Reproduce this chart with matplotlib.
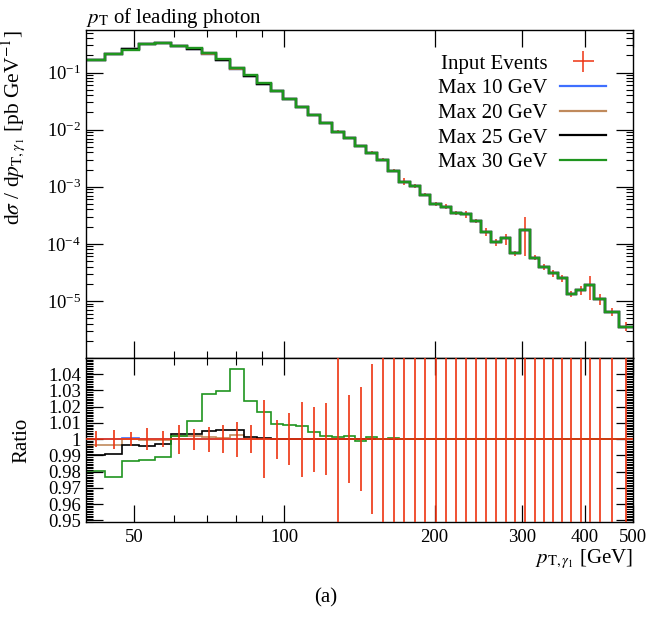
import matplotlib
matplotlib.use("Agg")
import matplotlib.pyplot as plt
import matplotlib.ticker as mticker
import numpy as np

plt.rcParams['font.family'] = ['Liberation Serif', 'DejaVu Serif']
plt.rcParams['mathtext.fontset'] = 'stix'

# bin edges of the leading photon pT histogram [GeV]
edges = [40, 43.7, 47.3, 51.1, 55.1, 59.3, 63.7, 68.3, 73.0, 77.7, 82.8, 88.3,
         93.8, 99.4, 105.3, 111.4, 117.9, 124.5, 131.4, 138.5, 145.8, 153.5,
         161.5, 169.8, 178.2, 187.0, 196.1, 205.7, 215.5, 225.9, 236.7, 247.8,
         259.8, 271.5, 283.6, 296.6, 310.4, 324.2, 338.5, 353.3, 368, 384.5,
         401, 418, 439, 468, 500]

# input events: dsigma/dpT [pb/GeV]
ref_vals = [0.169, 0.2126, 0.257, 0.322, 0.331, 0.297, 0.263, 0.215, 0.165,
            0.1175, 0.0886, 0.0642, 0.0472, 0.0346, 0.0248, 0.01815, 0.0133,
            0.00927, 0.00718, 0.00527, 0.00397, 0.00296, 0.00192, 0.00123,
            0.00105, 0.00073, 0.000508, 0.000450, 0.000353, 0.000335,
            0.000256, 0.000164, 0.000108, 0.000124, 6.87e-5, 0.000178,
            5.75e-5, 4.0e-5, 3.07e-5, 2.47e-5, 1.33e-5, 1.56e-5, 1.91e-5,
            1.10e-5, 6.52e-6, 3.56e-6]

# relative uncertainty of the input events
ref_relerr = [0.005, 0.0059, 0.0043, 0.0068, 0.0048, 0.0089, 0.0064, 0.0076,
              0.0085, 0.0108, 0.0088, 0.0242, 0.0119, 0.0161, 0.023, 0.020,
              0.0222, 0.07, 0.027, 0.032, 0.046, 0.06, 0.07, 0.14, 0.08, 0.07,
              0.08, 0.10, 0.08, 0.14, 0.08, 0.17, 0.14, 0.22, 0.11, 0.66,
              0.11, 0.12, 0.14, 0.14, 0.13, 0.19, 0.45, 0.22, 0.17, 0.18]

# ratios to input events
ratio_10 = [1.0, 1.0, 1.0006, 1.0, 1.0, 1.0, 1.0, 1.0, 1.0, 1.0, 1.0, 1.0,
            1.0, 1.0, 1.0, 1.0, 1.0, 1.0, 1.0, 1.0, 1.0, 1.0, 1.0, 1.0, 1.0,
            1.0, 1.0, 1.0, 1.0, 1.0, 1.0, 1.0, 1.0, 1.0, 1.0, 1.0, 1.0, 1.0,
            1.0, 1.0, 1.0, 1.0, 1.0, 1.0, 1.0, 1.0]
ratio_20 = [0.9962, 0.9962, 1.0, 0.9996, 0.9996, 1.002, 1.002, 1.0016, 1.0006,
            1.0026, 1.0, 1.0, 1.0, 1.0, 1.0, 1.0, 1.0, 1.0, 1.0, 1.0, 1.0,
            1.0, 1.0, 1.0, 1.0, 1.0, 1.0, 1.0, 1.0, 1.0, 1.0, 1.0, 1.0, 1.0,
            1.0, 1.0, 1.0, 1.0, 1.0, 1.0, 1.0, 1.0, 1.0, 1.0, 1.0, 1.0]
ratio_25 = [0.9902, 0.9906, 0.9964, 0.9956, 0.9972, 1.0035, 1.0035, 1.0048,
            1.0054, 1.0054, 1.0011, 1.0007, 1.0002, 1.0, 1.0, 1.0, 1.0, 1.0,
            1.0, 1.0, 1.0, 1.0, 1.0, 1.0, 1.0, 1.0, 1.0, 1.0, 1.0, 1.0, 1.0,
            1.0, 1.0, 1.0, 1.0, 1.0, 1.0, 1.0, 1.0, 1.0, 1.0, 1.0, 1.0, 1.0,
            1.0, 1.0]
ratio_30 = [0.9804, 0.977, 0.9868, 0.987, 0.989, 1.0018, 1.0113, 1.0278,
            1.0295, 1.0433, 1.0236, 1.017, 1.0095, 1.0088, 1.0082, 1.0043,
            1.0022, 1.0013, 1.0022, 0.9986, 1.0015, 1.0002, 1.0005, 1.0,
            1.0, 1.0, 1.0, 1.0, 1.0, 1.0, 1.0, 1.0, 1.0, 1.0, 1.0, 1.0, 1.0,
            1.0, 1.0, 1.0, 1.0, 1.0, 1.0, 1.0, 1.0, 1.0]

labels = ['Max 10 GeV', 'Max 20 GeV', 'Max 25 GeV', 'Max 30 GeV']
colors = ['#3f6fff', '#c08a5c', 'black', '#1f951f']
ref_color = '#ee3311'

edges_a = np.array(edges)
centers = 0.5 * (edges_a[1:] + edges_a[:-1])
halfw = 0.5 * (edges_a[1:] - edges_a[:-1])
ref = np.array(ref_vals)
rel = np.array(ref_relerr)
ratios = [np.array(r) for r in (ratio_10, ratio_20, ratio_25, ratio_30)]

fig = plt.figure(figsize=(6.47, 6.2), dpi=100)
ax = fig.add_axes([86 / 647, 262 / 620, 547 / 647, 328 / 620])
rax = fig.add_axes([86 / 647, 98 / 620, 547 / 647, 164 / 620], sharex=ax)

# main panel
eb = ax.errorbar(centers, ref, xerr=halfw, yerr=ref * rel, fmt='none',
                 ecolor=ref_color, elinewidth=1.1, zorder=1)
handles = [eb]
for r, c, lab in zip(ratios, colors, labels):
    h = ax.stairs(ref * r, edges_a, color=c, lw=1.7, baseline=None, label=lab)
    handles.append(h)
ax.set_xscale('log')
ax.set_yscale('log')
ax.set_xlim(40, 500)
ax.set_ylim(1.0e-6, 0.557)

leg = ax.legend(handles, ['Input Events'] + labels, loc='upper right',
                bbox_to_anchor=(0.97, 0.958), frameon=False, markerfirst=False,
                fontsize=15, handlelength=2.2, handletextpad=0.6,
                labelspacing=0.24, borderpad=0.0)
for lh in leg.legend_handles[1:]:
    lh.set_linewidth(1.6)

ax.set_title(r'$p_\mathrm{T}$ of leading photon', loc='left', fontsize=15, pad=5)
ax.set_ylabel(r'd$\sigma$ / d$p_{\mathrm{T},\gamma_1}$ [pb GeV$^{-1}$]',
              fontsize=15.5, loc='top')
ax.yaxis.set_label_coords(-0.108, 1.0)

# ratio panel
for r, c in zip(ratios, colors):
    rax.stairs(r, edges_a, color=c, lw=1.2, baseline=None)
rax.errorbar(centers, np.ones_like(centers), xerr=halfw, yerr=rel, fmt='none',
             ecolor=ref_color, elinewidth=1.2, zorder=5)
rax.set_ylim(0.949, 1.050)
rax.set_ylabel('Ratio', fontsize=15)
rax.yaxis.set_label_coords(-0.1, 0.5)
rax.set_xlabel(r'$p_{\mathrm{T},\gamma_1}$ [GeV]', fontsize=15, loc='right', labelpad=1)

rax.yaxis.set_major_locator(mticker.FixedLocator(np.arange(0.95, 1.045, 0.01)))
rax.yaxis.set_minor_locator(mticker.MultipleLocator(0.001))
rax.yaxis.set_major_formatter(mticker.FuncFormatter(lambda v, p: '%g' % round(v, 2)))

for a in (ax, rax):
    a.xaxis.set_major_locator(mticker.FixedLocator([50, 100, 200, 300, 400, 500]))
    a.xaxis.set_minor_locator(mticker.FixedLocator([60, 70, 80, 90]))
    a.xaxis.set_major_formatter(mticker.FuncFormatter(lambda v, p: '%g' % v))
    a.xaxis.set_minor_formatter(mticker.NullFormatter())
    a.tick_params(which='both', direction='in', top=True, right=True, labelsize=13.5)
    a.tick_params(which='major', length=12, width=0.9)
    a.tick_params(which='minor', length=5, width=0.8)
    for s in a.spines.values():
        s.set_linewidth(1.0)
ax.yaxis.set_major_locator(mticker.FixedLocator([1e-5, 1e-4, 1e-3, 1e-2, 1e-1]))
ax.yaxis.set_minor_locator(mticker.LogLocator(base=10, subs=np.arange(2, 10), numticks=20))
ax.yaxis.set_minor_formatter(mticker.NullFormatter())
ax.tick_params(axis='x', labelbottom=False)
rax.tick_params(axis='x', pad=5)

fig.text(325.5 / 647, 1 - 598 / 620, '(a)', ha='center', va='center', fontsize=15)

fig.savefig('out.png', dpi=100)
